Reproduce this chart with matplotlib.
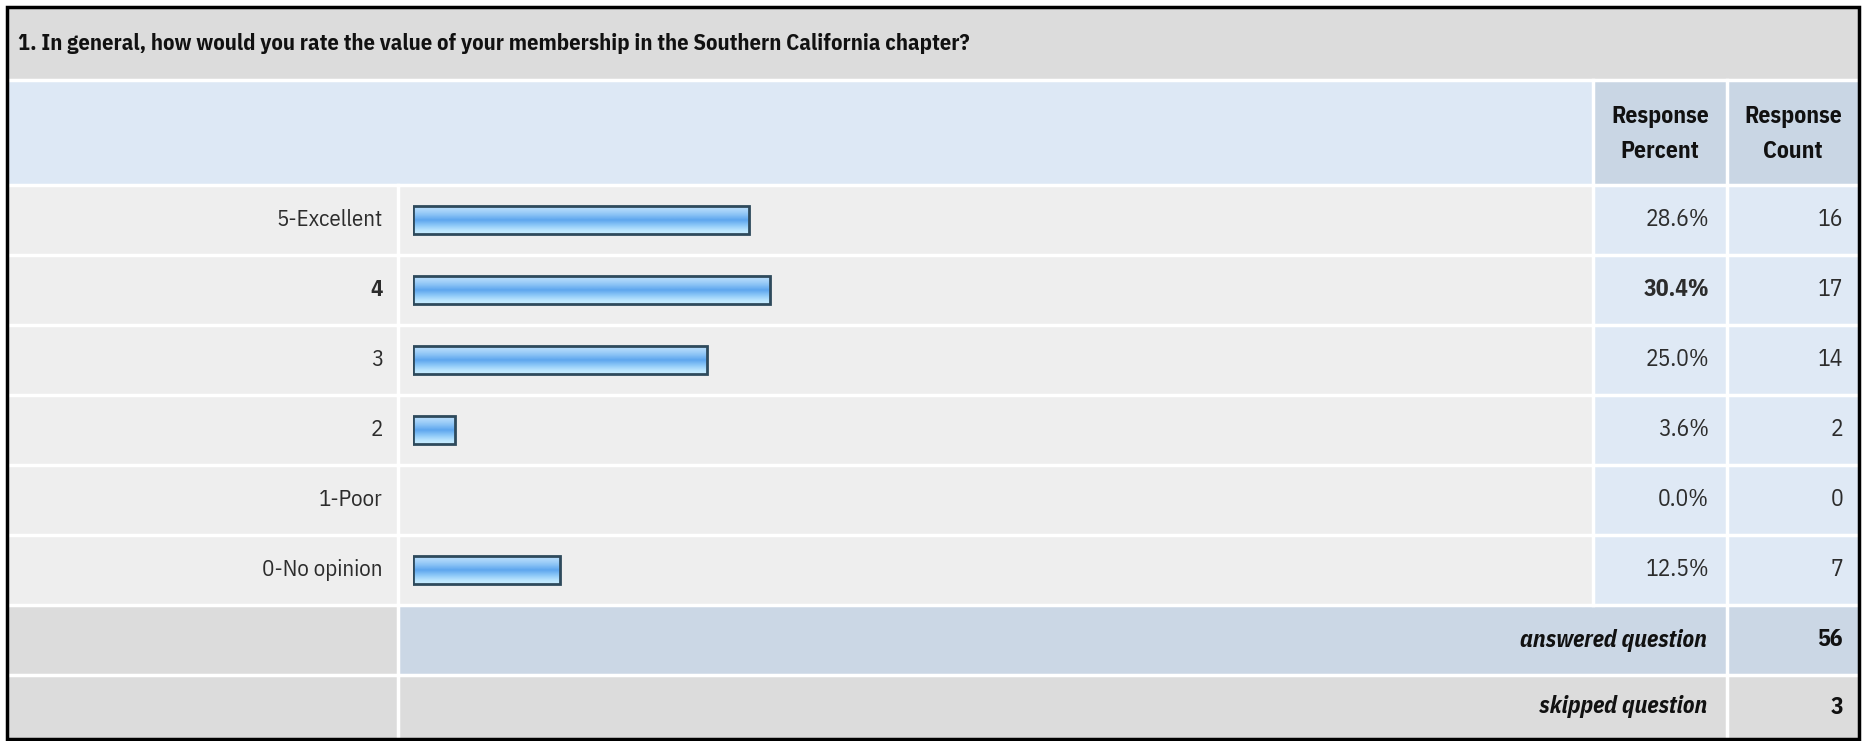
import matplotlib.pyplot as plt
from matplotlib.patches import Rectangle
from matplotlib.colors import LinearSegmentedColormap
import numpy as np

question = "1. In general, how would you rate the value of your membership in the Southern California chapter?"
choices = ["5-Excellent", "4", "3", "2", "1-Poor", "0-No opinion"]
percents = [28.6, 30.4, 25.0, 3.6, 0.0, 12.5]
counts = [16, 17, 14, 2, 0, 7]
bold_rows = [1]
answered = 56
skipped = 3

plt.rcParams['font.family'] = ['IBM Plex Sans Condensed', 'Liberation Sans', 'DejaVu Sans']

W, H = 1865, 741
fig = plt.figure(figsize=(W / 100, H / 100), dpi=100)
ax = fig.add_axes([0, 0, 1, 1])
ax.set_xlim(0, W)
ax.set_ylim(H, 0)
ax.axis('off')

# table layout (pixels)
L, R, T, B = 7, 1859, 7, 739
x_lab, x_pct, x_cnt = 398, 1593, 1727
y_head, y_rows, row_h = 80, 185, 70
n = len(choices)
y_ans = y_rows + n * row_h
y_skip = y_ans + row_h

TITLE_BG = '#dcdcdc'
HEAD_BG = '#dde8f5'
HEAD_COL = '#c9d6e4'
ROW_BG = '#eeeeee'
ROW_COL = '#dfe9f5'
ANS_BG = '#cbd7e5'


def cell(x0, y0, x1, y1, c):
    ax.add_patch(Rectangle((x0, y0), x1 - x0, y1 - y0, facecolor=c, edgecolor='none', zorder=0))


cell(L, T, R, y_head, TITLE_BG)
cell(L, y_head, x_pct, y_rows, HEAD_BG)
cell(x_pct, y_head, R, y_rows, HEAD_COL)
cell(L, y_rows, x_pct, y_ans, ROW_BG)
cell(x_pct, y_rows, R, y_ans, ROW_COL)
cell(L, y_ans, x_lab, y_skip, TITLE_BG)
cell(x_lab, y_ans, R, y_skip, ANS_BG)
cell(L, y_skip, R, B, TITLE_BG)

# white grid lines
sep = dict(color='white', lw=2.5, zorder=1)
for yy in [y_head, y_rows] + [y_rows + i * row_h for i in range(1, n + 2)]:
    ax.plot([L, R], [yy, yy], **sep)
ax.plot([x_lab, x_lab], [y_rows, B], **sep)
ax.plot([x_pct, x_pct], [y_head, y_ans], **sep)
ax.plot([x_cnt, x_cnt], [y_head, B], **sep)
ax.add_patch(Rectangle((L, T), R - L, B - T, fill=False, edgecolor='black', lw=2.5, zorder=5))

txt = '#2c2c2c'
dark = '#111111'
ax.text(18, 44, question, fontsize=16.2, fontweight='bold', color=dark, va='center', ha='left')
for col_x0, col_x1, word in [(x_pct, x_cnt, 'Percent'), (x_cnt, R, 'Count')]:
    cx = (col_x0 + col_x1) / 2
    ax.text(cx, 117, 'Response', fontsize=17, fontweight='bold', color=dark, ha='center', va='center')
    ax.text(cx, 151, word, fontsize=17, fontweight='bold', color=dark, ha='center', va='center')

for i, (lab, p, c) in enumerate(zip(choices, percents, counts)):
    yc = y_rows + i * row_h + row_h / 2
    fw = 'bold' if i in bold_rows else 'normal'
    ax.text(383, yc, lab, fontsize=16.5, fontweight=fw, color=txt, ha='right', va='center')
    ax.text(1709, yc, f"{p:.1f}%", fontsize=17, fontweight=fw, color=txt, ha='right', va='center')
    ax.text(1843, yc, str(c), fontsize=17, color=txt, ha='right', va='center')

ya = y_ans + row_h / 2
ys = y_skip + (B - y_skip) / 2
ax.text(1707, ya, 'answered question', fontsize=17, fontweight='bold', style='italic', color=dark, ha='right', va='center')
ax.text(1843, ya, str(answered), fontsize=17, fontweight='bold', color=dark, ha='right', va='center')
ax.text(1707, ys, 'skipped question', fontsize=17, fontweight='bold', style='italic', color=dark, ha='right', va='center')
ax.text(1843, ys, str(skipped), fontsize=17, fontweight='bold', color=dark, ha='right', va='center')

# bar area: 0..100% across the bar column
bx0, bx1 = 413, 1588
bx = fig.add_axes([bx0 / W, 1 - y_ans / H, (bx1 - bx0) / W, (y_ans - y_rows) / H])
bx.axis('off')
bx.patch.set_alpha(0)

bar_h = 0.39
ypos = np.arange(n)
shown = [(y, p) for y, p in zip(ypos, percents) if p > 0]
grad = np.array([0.0, 0.25, 0.5, 0.75, 1.0]).reshape(-1, 1)
cmap = LinearSegmentedColormap.from_list(
    'bar', ['#b7dcfb', '#8cc4f6', '#5ea6ee', '#8fcaf8', '#c6ecff'])
for y, p in shown:
    bx.imshow(grad, cmap=cmap, aspect='auto', interpolation='bicubic',
              extent=[0, p, y + bar_h / 2, y - bar_h / 2], zorder=1)
bx.barh([y for y, _ in shown], [p for _, p in shown], height=bar_h,
        color='none', edgecolor='#2e4a5c', linewidth=2, zorder=2)
bx.set_xlim(0, 100)
bx.set_ylim(n - 0.5, -0.5)

fig.savefig('out.png', dpi=100)
